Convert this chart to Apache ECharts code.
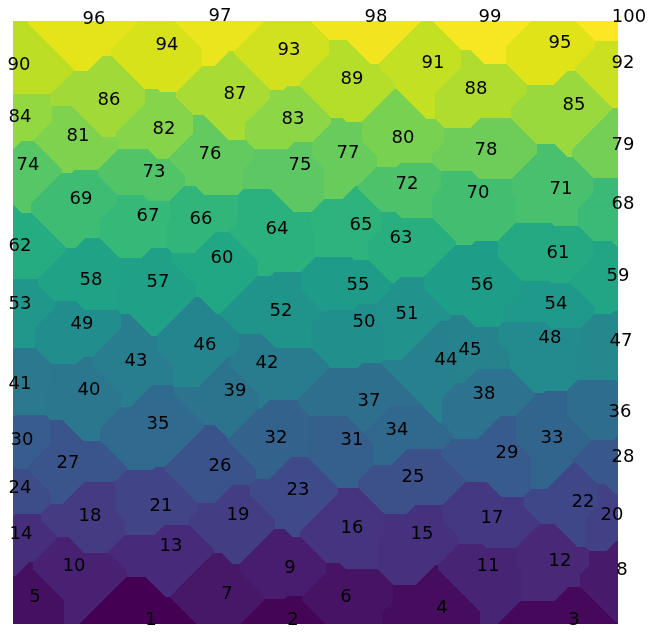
<!DOCTYPE html>
<html>
<head>
<meta charset="utf-8">
<script src="https://cdn.jsdelivr.net/npm/echarts@6/dist/echarts.min.js"></script>
<style>
html,body{margin:0;padding:0;background:#fff;}
#chart{width:656px;height:636px;}
</style>
</head>
<body>
<div id="chart"></div>
<script>
// Site values (labels) and their positions (x to the right, y upwards)
const values = [];
for (let v = 1; v <= 100; v++) values.push(v);

const xs = [132,274,555,423,16,327,208,603,271,55,
            469,541,152,2,403,333,473,71,219,593,
            142,564,279,1,394,201,49,604,488,3,
            333,257,533,378,139,601,350,465,216,70,
            1,248,117,427,451,186,602,531,63,345,
            388,262,1,537,339,463,139,72,599,203,
            539,1,382,258,342,182,129,604,62,459,
            542,388,135,9,281,191,329,467,604,384,
            59,145,274,1,555,90,216,457,333,0,
            414,604,270,148,541,75,201,357,471,610];

const ys = [0,0,0,12,23,23,26,50,52,54,
            54,59,74,86,86,92,102,104,105,105,
            114,118,130,132,143,154,157,163,167,180,
            180,182,182,190,196,208,219,226,229,230,
            236,257,259,260,270,275,279,282,296,298,
            306,309,316,316,335,335,338,340,344,362,
            367,374,382,391,395,401,404,416,421,427,
            431,436,448,455,455,466,467,470,475,482,
            484,491,501,503,515,520,526,531,541,555,
            557,557,570,575,577,601,604,603,603,603];

const xMax = 605, yMax = 603;

const viridis = ['#440154','#471365','#482475','#463480','#414487','#3b528b','#355f8d',
  '#2f6c8e','#2a788e','#25848e','#21918c','#1e9c89','#22a884','#2fb47c','#44bf70',
  '#5ec962','#7ad151','#9bd93c','#bddf26','#dfe318','#fde725'];

// Nearest-site (Manhattan distance) table, run-length encoded per row
const cells = [];
const n = values.length;
for (let r = 0; r < yMax; r++) {
  const cy = r + 0.5;
  let runStart = 0, runVal = null;
  for (let c = 0; c < xMax; c++) {
    const cx = c + 0.5;
    let best = Infinity, bv = 0;
    for (let i = 0; i < n; i++) {
      const d = Math.abs(cx - xs[i]) + Math.abs(cy - ys[i]);
      if (d < best) { best = d; bv = values[i]; }
    }
    if (bv !== runVal) {
      if (runVal !== null) cells.push([runStart, c, r, r + 1, runVal]);
      runStart = c; runVal = bv;
    }
  }
  cells.push([runStart, xMax, r, r + 1, runVal]);
}

const labelData = values.map((v, i) => [xs[i], ys[i], v]);

const chart = echarts.init(document.getElementById('chart'), null, {renderer: 'canvas'});
chart.setOption({
  backgroundColor: '#ffffff',
  animation: false,
  grid: {left: 13, top: 21, width: 605, height: 603},
  xAxis: {type: 'value', min: 0, max: xMax, show: false},
  yAxis: {type: 'value', min: 0, max: yMax, show: false},
  visualMap: {
    type: 'continuous', show: false, min: 1, max: 100,
    dimension: 4, seriesIndex: 0,
    inRange: {color: viridis}
  },
  series: [
    {
      type: 'custom',
      silent: true,
      progressive: 0,
      data: cells,
      encode: {x: [0, 1], y: [2, 3]},
      renderItem: function (params, api) {
        const p0 = api.coord([api.value(0), api.value(3)]);
        const p1 = api.coord([api.value(1), api.value(2)]);
        return {
          type: 'rect',
          shape: {x: p0[0], y: p0[1], width: p1[0] - p0[0], height: p1[1] - p0[1]},
          style: {fill: api.visual('color'), stroke: null}
        };
      }
    },
    {
      type: 'scatter',
      silent: true,
      clip: false,
      symbolSize: 0,
      itemStyle: {opacity: 0},
      data: labelData,
      label: {
        show: true,
        position: 'inside',
        offset: [6, -4],
        formatter: p => String(p.value[2]),
        fontSize: 18,
        fontFamily: 'DejaVu Sans',
        color: '#000000',
        opacity: 1,
        textBorderWidth: 0,
        textBorderColor: 'transparent'
      }
    }
  ]
});
</script>
</body>
</html>
